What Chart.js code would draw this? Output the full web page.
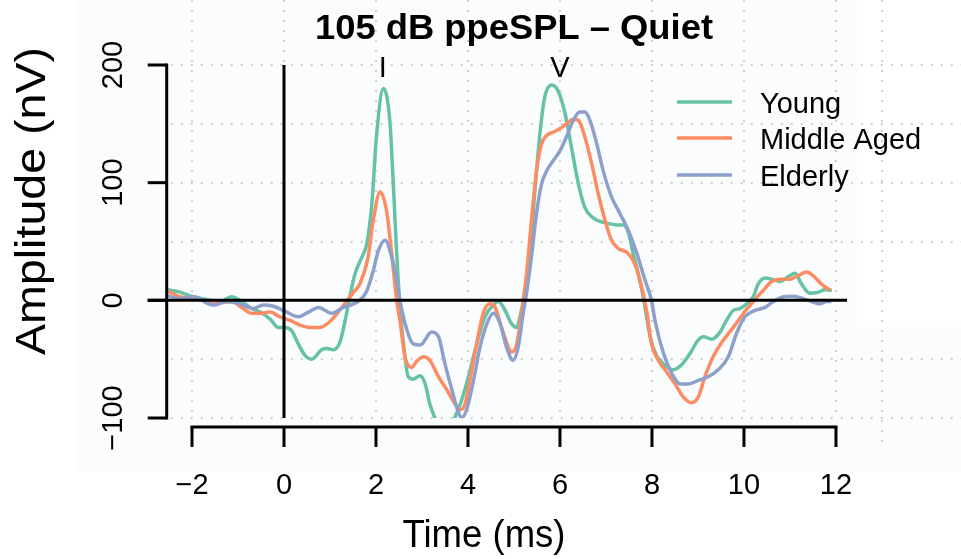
<!DOCTYPE html>
<html>
<head>
<meta charset="utf-8">
<title>105 dB ppeSPL – Quiet</title>
<script src="https://cdn.jsdelivr.net/npm/chart.js@4.4.1/dist/chart.umd.min.js"></script>
<style>
  html, body { margin: 0; padding: 0; background: #fff; }
  #wrap { width: 961px; height: 559px; }
</style>
</head>
<body>
<div id="wrap"><canvas id="abr" width="961" height="559"></canvas></div>
<script>
// --- data (time in ms, amplitude in nV) ---
const youngT = [-2.55, -2.26, -1.97, -1.61, -1.39, -1.14, -0.96, -0.74, -0.52, -0.30, -0.13, 0.02, 0.17, 0.31, 0.46, 0.60, 0.82, 0.93, 1.07, 1.22, 1.33, 1.43, 1.54, 1.72, 1.80, 1.91, 2.01, 2.16, 2.30, 2.38, 2.45, 2.52, 2.63, 2.70, 2.81, 2.96, 3.07, 3.17, 3.28, 3.50, 3.72, 3.86, 4.01, 4.19, 4.37, 4.55, 4.66, 4.80, 4.95, 5.06, 5.13, 5.22, 5.35, 5.46, 5.57, 5.67, 5.82, 5.96, 6.11, 6.25, 6.40, 6.54, 6.69, 6.87, 7.09, 7.27, 7.38, 7.49, 7.59, 7.70, 7.81, 7.96, 8.10, 8.28, 8.46, 8.64, 8.83, 9.00, 9.12, 9.30, 9.48, 9.62, 9.77, 9.91, 10.06, 10.20, 10.31, 10.46, 10.60, 10.78, 10.96, 11.11, 11.25, 11.43, 11.62, 11.76, 11.91];
const youngV = [9, 7, 3, 0, -1, 3, 0, -6, -10, -16, -23, -23, -26, -37, -47, -50, -42, -41, -42, -35, -17, 3, 22, 39, 48, 82, 139, 180, 153, 96, 40, -5, -48, -65, -67, -64, -71, -88, -100, -118, -99, -85, -65, -37, -14, -4, -1, -8, -20, -23, -14, 3, 40, 96, 144, 173, 183, 178, 159, 130, 99, 79, 71, 67, 65, 64, 64, 57, 40, 23, 3, -31, -47, -55, -59, -55, -45, -34, -31, -33, -27, -17, -8.5, -7, -3, 3, 14, 19, 18, 16, 20, 23, 14, 6, 7, 9, 8.5];

const middleT = [-2.55, -2.26, -1.97, -1.61, -1.39, -1.14, -0.92, -0.70, -0.52, -0.30, -0.09, 0.13, 0.35, 0.57, 0.78, 1.00, 1.22, 1.36, 1.51, 1.65, 1.83, 1.94, 2.09, 2.23, 2.34, 2.45, 2.52, 2.63, 2.78, 2.88, 3.03, 3.17, 3.36, 3.54, 3.72, 3.83, 3.93, 4.04, 4.19, 4.33, 4.48, 4.59, 4.73, 4.88, 4.95, 5.06, 5.17, 5.28, 5.38, 5.49, 5.60, 5.71, 5.86, 6.00, 6.14, 6.29, 6.40, 6.54, 6.69, 6.83, 6.98, 7.12, 7.27, 7.45, 7.59, 7.74, 7.88, 7.99, 8.14, 8.32, 8.50, 8.68, 8.86, 9.01, 9.15, 9.33, 9.55, 9.77, 9.99, 10.20, 10.42, 10.60, 10.78, 11.00, 11.18, 11.36, 11.50, 11.68, 11.87];
const middleV = [8, 3, 1.5, -1, -2, -1, -6, -11, -11, -10, -14, -17, -21, -23, -23, -18, -8, -1, 7, 14, 37, 68, 92, 76, 40, 0, -17, -48, -57, -52, -48, -51, -65, -76, -88, -93, -89, -68, -37, -11, -3, -6, -23, -40, -44, -37, -9, 25, 68, 110, 133, 140, 143, 146, 150, 154, 153, 139, 116, 91, 68, 51, 44, 41, 34, 17, -8, -37, -51, -61, -71, -82, -87, -82, -65, -48, -34, -23, -11, -1, 8.5, 16, 18, 18, 21, 24, 21, 14, 8.5];

const elderlyT = [-2.55, -2.26, -1.97, -1.54, -1.25, -0.96, -0.67, -0.45, -0.23, 0.06, 0.31, 0.53, 0.75, 1.04, 1.29, 1.51, 1.65, 1.80, 1.94, 2.05, 2.20, 2.34, 2.45, 2.52, 2.67, 2.81, 2.96, 3.21, 3.36, 3.50, 3.65, 3.79, 3.86, 3.97, 4.12, 4.26, 4.41, 4.55, 4.70, 4.84, 4.98, 5.09, 5.20, 5.28, 5.38, 5.49, 5.60, 5.71, 5.86, 6.00, 6.14, 6.29, 6.43, 6.54, 6.65, 6.80, 6.94, 7.12, 7.30, 7.49, 7.67, 7.85, 7.99, 8.07, 8.25, 8.43, 8.61, 8.79, 9.01, 9.22, 9.44, 9.66, 9.84, 10.02, 10.24, 10.46, 10.64, 10.86, 11.07, 11.29, 11.47, 11.65, 11.79, 11.90];
const elderlyV = [4, 1.5, 3, -4, -1, -3, -7, -4, -5, -10, -14, -10, -6, -11, -6, -3, 0, 8, 25, 42, 51, 37, 17, 0, -25, -37, -38, -27, -31, -54, -76, -95, -100, -93, -68, -40, -20, -11, -20, -40, -51, -40, -11, 8, 37, 74, 99, 110, 119, 127, 139, 153, 160, 160, 153, 133, 110, 88, 74, 59, 40, 17, 0, -18, -45, -62, -71, -71, -68, -65, -59, -48, -28, -14, -8.5, -6, -1, 3, 3.5, 1.5, -1, -3, -1, -1];

const seriesNames  = ['Young', 'Middle Aged', 'Elderly'];
const seriesColors = ['#66c2a5', '#fc8d62', '#8da0cb'];

const xTicks = [-2, 0, 2, 4, 6, 8, 10, 12];
const yTicks = [-100, 0, 100, 200];
const xGrid = [-2, 0, 2, 4, 6, 8, 10, 12];
const yGrid = [-100, -50, 50, 100, 150, 200];

const peakLabels = ['I', 'V'];
const peakTimes  = [2.15, 6.0];

const chartTitle = '105 dB ppeSPL \u2013 Quiet';
const xTitle = 'Time (ms)';
const yTitle = 'Amplitude (nV)';

const pts = (ts, vs) => ts.map((t, i) => ({ x: t, y: vs[i] }));

const FONT = '"Liberation Sans", Arial, Helvetica, sans-serif';

// text helper, optionally squeezed/stretched to a target length
function drawText(ctx, s, x, y, opt) {
  ctx.save();
  ctx.font = opt.font;
  ctx.fillStyle = '#000';
  ctx.textAlign = opt.align || 'center';
  ctx.textBaseline = opt.baseline || 'alphabetic';
  ctx.translate(x, y);
  if (opt.rot) ctx.rotate(opt.rot);
  if (opt.fit) {
    const w = ctx.measureText(s).width;
    ctx.scale(opt.fit / w, 1);
  }
  ctx.fillText(s, 0, 0);
  ctx.restore();
}

// R base-graphics look: dotted background grid, offset axes, legend inside
const rStyle = {
  id: 'rStyle',
  beforeDraw(chart) {
    const ctx = chart.ctx;
    ctx.save();
    ctx.fillStyle = '#ffffff';
    ctx.fillRect(0, 0, chart.width, chart.height);
    ctx.fillStyle = '#fafcfd';
    ctx.fillRect(75, 0, 782, 472);
    ctx.fillRect(857, 327, 104, 145);
    ctx.restore();
  },
  beforeDatasetsDraw(chart) {
    const { ctx, chartArea: a, scales: { x, y } } = chart;
    ctx.save();
    ctx.strokeStyle = '#cfcfcf';
    ctx.lineWidth = 2;
    ctx.setLineDash([2, 8]);
    xGrid.forEach(v => {
      const px = Math.round(x.getPixelForValue(v));
      ctx.beginPath(); ctx.moveTo(px, 0); ctx.lineTo(px, a.bottom); ctx.stroke();
    });
    // stray grid column past the plot
    const px13 = Math.round(x.getPixelForValue(13));
    ctx.beginPath(); ctx.moveTo(px13, 0); ctx.lineTo(px13, 450); ctx.stroke();
    yGrid.forEach(v => {
      const py = Math.round(y.getPixelForValue(v));
      ctx.beginPath(); ctx.moveTo(a.left + 4, py); ctx.lineTo(chart.width, py); ctx.stroke();
    });
    ctx.restore();
  },
  afterDatasetsDraw(chart) {
    const { ctx, chartArea: a, scales: { x, y } } = chart;
    ctx.save();
    ctx.strokeStyle = '#000';
    ctx.lineWidth = 3;
    ctx.lineCap = 'butt';

    // reference lines at 0 nV and 0 ms
    const y0 = y.getPixelForValue(0);
    ctx.beginPath(); ctx.moveTo(a.left - 19, y0); ctx.lineTo(a.right, y0); ctx.stroke();
    const x0 = x.getPixelForValue(0);
    ctx.beginPath(); ctx.moveTo(x0, a.top); ctx.lineTo(x0, a.bottom); ctx.stroke();

    // y axis
    ctx.beginPath();
    ctx.moveTo(a.left, y.getPixelForValue(yTicks[0]) + 1.5);
    ctx.lineTo(a.left, y.getPixelForValue(yTicks[yTicks.length - 1]) - 1.5);
    ctx.stroke();
    yTicks.forEach(v => {
      const py = y.getPixelForValue(v);
      ctx.beginPath(); ctx.moveTo(a.left - 19, py); ctx.lineTo(a.left, py); ctx.stroke();
      drawText(ctx, String(v).replace('-', '\u2212'), 122, py,
        { font: '29px ' + FONT, rot: -Math.PI / 2 });
    });

    // x axis, drawn below the plot like R's axis()
    const axY = a.bottom + 9;
    ctx.beginPath();
    ctx.moveTo(x.getPixelForValue(xTicks[0]) - 1.5, axY);
    ctx.lineTo(x.getPixelForValue(xTicks[xTicks.length - 1]) + 1.5, axY);
    ctx.stroke();
    xTicks.forEach(v => {
      const px = x.getPixelForValue(v);
      ctx.beginPath(); ctx.moveTo(px, axY); ctx.lineTo(px, axY + 20); ctx.stroke();
      drawText(ctx, String(v).replace('-', '\u2212'), px, 494, { font: '29px ' + FONT });
    });

    // titles
    drawText(ctx, chartTitle, 514, 39, { font: 'bold 35px ' + FONT, fit: 398 });
    drawText(ctx, xTitle, 484, 547, { font: '38px ' + FONT, fit: 163 });
    drawText(ctx, yTitle, 45, 201, { font: '43px ' + FONT, rot: -Math.PI / 2, fit: 308 });

    // wave labels
    const yTop = y.getPixelForValue(200);
    peakLabels.forEach((s, i) => {
      drawText(ctx, s, x.getPixelForValue(peakTimes[i]), yTop + 12, { font: '29px ' + FONT });
    });

    // legend
    const legY = [102, 138, 175];
    seriesNames.forEach((name, i) => {
      ctx.strokeStyle = seriesColors[i];
      ctx.lineWidth = 3.5;
      ctx.beginPath(); ctx.moveTo(677, legY[i]); ctx.lineTo(732, legY[i]); ctx.stroke();
      drawText(ctx, name, 760, legY[i] + 11, { font: '29px ' + FONT, align: 'left' });
    });
    ctx.restore();
  }
};

const series = [[youngT, youngV], [middleT, middleV], [elderlyT, elderlyV]];

new Chart(document.getElementById('abr'), {
  type: 'line',
  data: {
    datasets: series.map(([ts, vs], i) => ({
      label: seriesNames[i],
      data: pts(ts, vs),
      borderColor: seriesColors[i],
      borderWidth: 3.5,
      pointRadius: 0,
      fill: false,
      cubicInterpolationMode: 'monotone',
      order: 2 - i,
    })),
  },
  options: {
    responsive: false,
    animation: false,
    devicePixelRatio: 1,
    layout: { padding: { left: 166.7, right: 114, top: 65, bottom: 141 } },
    scales: {
      x: { type: 'linear', min: -2.55, max: 12.24, display: false },
      y: { type: 'linear', min: -100, max: 200, display: false },
    },
    plugins: {
      legend: { display: false },
      tooltip: { enabled: false },
      title: { display: false },
    },
  },
  plugins: [rStyle],
});
</script>
</body>
</html>
